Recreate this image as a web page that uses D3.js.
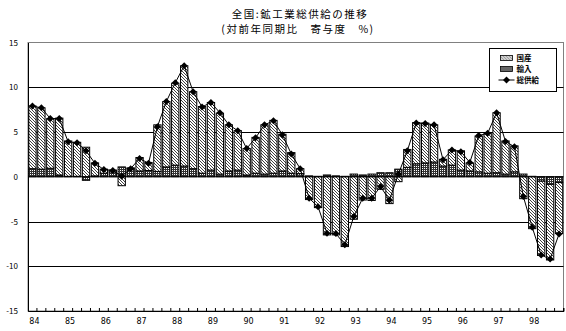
<!DOCTYPE html>
<html>
<head>
<meta charset="utf-8">
<script src="https://cdn.jsdelivr.net/npm/d3@7"></script>
<style>
  body { margin: 0; background: #fff; }
  text { font-family: "Noto Sans CJK JP", "DejaVu Sans", sans-serif; fill: #000; }
</style>
</head>
<body>
<svg id="chart" width="566" height="331"></svg>
<script>
// Fiscal years shown on the category axis; each year has four quarters.
const years = ["84","85","86","87","88","89","90","91","92","93","94","95","96","97","98"];
const quarters = ["Q1","Q2","Q3","Q4"];
const categories = years.flatMap(y => quarters.map(q => y + q));

// Contribution of domestic production (国産), %
const domestic = [
  7.0, 6.85, 5.55, 6.35, 3.95, 3.8, 3.3, 1.45, 0.45, 0.2, -1.0, 0.1,
  1.5, 0.9, 5.2, 7.3, 9.15, 11.2, 8.6, 7.45, 7.55, 6.8, 5.15, 4.4,
  2.95, 4.0, 5.5, 5.9, 4.1, 2.3, 0.55, -2.55, -3.45, -6.5, -6.5, -7.8,
  -4.75, -2.6, -2.65, -1.4, -3.0, -0.55, 2.0, 4.6, 4.45, 4.15, 0.75, 1.7,
  2.15, 0.9, 4.0, 4.45, 6.7, 3.7, 2.9, -2.45, -5.8, -8.3, -8.45, -5.7
];
// Contribution of imports (輸入), %
const imports = [
  0.9, 0.85, 0.95, 0.2, 0.05, 0.05, -0.4, 0.1, 0.4, 0.55, 1.1, 0.9,
  0.65, 0.7, 0.6, 1.1, 1.3, 1.2, 0.9, 0.4, 0.75, 0.3, 0.65, 0.75,
  0.2, 0.4, 0.3, 0.4, 0.65, 0.4, 0.35, 0.1, 0.05, 0.2, 0.1, 0.05,
  0.3, 0.2, 0.3, 0.45, 0.45, 0.85, 1.05, 1.45, 1.55, 1.65, 1.2, 1.3,
  0.75, 0.65, 0.55, 0.4, 0.45, 0.3, 0.55, 0.3, 0.05, -0.5, -0.85, -0.65
];
// Total supply growth (総供給), % year on year
const total = [
  7.9, 7.7, 6.5, 6.5, 3.9, 3.8, 2.9, 1.5, 0.8, 0.7, 0.05, 0.9,
  2.05, 1.5, 5.6, 8.4, 10.5, 12.4, 9.5, 7.8, 8.3, 7.15, 5.8, 5.15,
  3.15, 4.35, 5.8, 6.25, 4.7, 2.55, 0.9, -2.4, -3.35, -6.3, -6.35, -7.6,
  -4.45, -2.4, -2.4, -1.1, -2.6, 0.3, 2.9, 6.0, 5.95, 5.8, 1.9, 3.0,
  2.8, 1.6, 4.6, 4.85, 7.15, 3.95, 3.35, -2.2, -5.65, -8.75, -9.2, -6.4
];
const yTicks = [15, 10, 5, 0, -5, -10, -15];
const gridValues = [10, 5, -5, -10];
const legendItems = ["国産", "輸入", "総供給"];
const titleLines = ["全国:鉱工業総供給の推移", "(対前年同期比　寄与度　%)"];

const svg = d3.select("#chart");
const plot = { left: 28, right: 563.5, top: 42.5, bottom: 311 };

const x = d3.scaleBand().domain(categories)
  .range([plot.left, plot.right]).paddingInner(0.18).paddingOuter(0.09);
const xStep = d3.scaleBand().domain(categories).range([plot.left, plot.right]);
const y = d3.scaleLinear().domain([-15, 15]).range([plot.bottom, plot.top]);

// Fill patterns
const defs = svg.append("defs");
const hatch = defs.append("pattern").attr("id", "hatch")
  .attr("patternUnits", "userSpaceOnUse").attr("width", 3).attr("height", 3);
hatch.append("rect").attr("width", 3).attr("height", 3).attr("fill", "#fff");
hatch.append("path").attr("d", "M0,0L3,3M-1,2L1,4M2,-1L4,1")
  .attr("stroke", "#000").attr("stroke-width", 0.75);

const dots = defs.append("pattern").attr("id", "dots")
  .attr("patternUnits", "userSpaceOnUse").attr("width", 2).attr("height", 2);
dots.append("rect").attr("width", 2).attr("height", 2).attr("fill", "#333");
dots.append("rect").attr("width", 1).attr("height", 1).attr("fill", "#fff");

// Two-line title
const titleX = [300, 298];
const titleY = [17.5, 32.8];
svg.append("g").attr("font-size", 10.5).attr("letter-spacing", 1.5)
  .selectAll("text").data(titleLines).join("text")
  .attr("x", (d, i) => titleX[i]).attr("y", (d, i) => titleY[i])
  .attr("text-anchor", "middle").attr("xml:space", "preserve")
  .text(d => d);

// Plot frame and gridlines
svg.append("rect")
  .attr("x", plot.left).attr("y", y(15))
  .attr("width", plot.right - plot.left).attr("height", y(-15) - y(15))
  .attr("fill", "none").attr("stroke", "#808080").attr("stroke-width", 1);

svg.append("g").selectAll("line").data(gridValues).join("line")
  .attr("x1", plot.left).attr("x2", plot.right)
  .attr("y1", d => Math.round(y(d)) + 0.5).attr("y2", d => Math.round(y(d)) + 0.5)
  .attr("stroke", "#000").attr("stroke-width", 1);

// Y axis
const yAxis = svg.append("g").attr("transform", `translate(${plot.left},0)`)
  .call(d3.axisLeft(y).tickValues(yTicks).tickSize(0).tickPadding(10)
    .tickFormat(d => d < 0 ? "-" + Math.abs(d) : d));
yAxis.select(".domain").attr("stroke", "#000");
yAxis.selectAll("text").attr("font-size", 8).attr("font-family", "'DejaVu Sans', sans-serif");

// Stacked bars (positive parts up from zero, negative parts down)
const rows = categories.map((c, i) => ({ cat: c, imports: imports[i], domestic: domestic[i] }));
const stack = d3.stack().keys(["imports", "domestic"]).offset(d3.stackOffsetDiverging);
const series = stack(rows);
const fills = { imports: "url(#dots)", domestic: "url(#hatch)" };

svg.append("g").selectAll("g").data(series).join("g")
  .attr("fill", d => fills[d.key])
  .selectAll("rect").data(d => d).join("rect")
  .attr("x", d => x(d.data.cat))
  .attr("width", x.bandwidth())
  .attr("y", d => y(Math.max(d[0], d[1])))
  .attr("height", d => Math.abs(y(d[0]) - y(d[1])))
  .attr("stroke", "#000").attr("stroke-width", 1);

// Zero line
svg.append("line")
  .attr("x1", plot.left).attr("x2", plot.right)
  .attr("y1", y(0)).attr("y2", y(0))
  .attr("stroke", "#000").attr("stroke-width", 1);

// X axis with a small tick per quarter
const xAxis = svg.append("g").attr("transform", `translate(0,${y(-15)})`)
  .call(d3.axisBottom(xStep).tickSize(-3).tickFormat(""));
xAxis.select(".domain").attr("stroke", "#000");
xAxis.selectAll(".tick line").attr("transform", `translate(${xStep.bandwidth() / 2},0)`);

svg.append("g").attr("font-size", 8)
  .selectAll("text").data(years).join("text")
  .attr("x", d => x(d + "Q1") + 0.5)
  .attr("y", 324)
  .style("font-family", "'DejaVu Sans', sans-serif")
  .text(d => d);

// Total supply line with diamond markers
const cx = i => x(categories[i]) + x.bandwidth() / 2;
svg.append("path").datum(total)
  .attr("d", d3.line().x((d, i) => cx(i)).y(d => y(d)))
  .attr("fill", "none").attr("stroke", "#000").attr("stroke-width", 1);

const diamond = "M0,-3.5L3.5,0L0,3.5L-3.5,0Z";
svg.append("g").selectAll("path").data(total).join("path")
  .attr("d", diamond)
  .attr("transform", (d, i) => `translate(${cx(i)},${y(d)})`)
  .attr("fill", "#000");

// Legend
const lg = svg.append("g").attr("transform", "translate(489.5,48.5)");
lg.append("rect").attr("width", 67).attr("height", 43)
  .attr("fill", "#fff").attr("stroke", "#000").attr("stroke-width", 1);
const legendY = [9.5, 20.5, 31.5];
lg.append("rect").attr("x", 11).attr("y", legendY[0] - 2.5).attr("width", 12).attr("height", 5)
  .attr("fill", "url(#hatch)").attr("stroke", "#000").attr("stroke-width", 0.8);
lg.append("rect").attr("x", 11).attr("y", legendY[1] - 2.5).attr("width", 12).attr("height", 5)
  .attr("fill", "url(#dots)").attr("stroke", "#000").attr("stroke-width", 0.8);
lg.append("line").attr("x1", 9).attr("x2", 25).attr("y1", legendY[2]).attr("y2", legendY[2])
  .attr("stroke", "#000");
lg.append("path").attr("d", diamond).attr("transform", `translate(17,${legendY[2]})`).attr("fill", "#000");
lg.selectAll("text.lab").data(legendItems).join("text").attr("class", "lab")
  .attr("x", 27).attr("y", (d, i) => legendY[i] + 3)
  .attr("font-size", 7.5).attr("font-weight", "bold")
  .text(d => d);
</script>
</body>
</html>
